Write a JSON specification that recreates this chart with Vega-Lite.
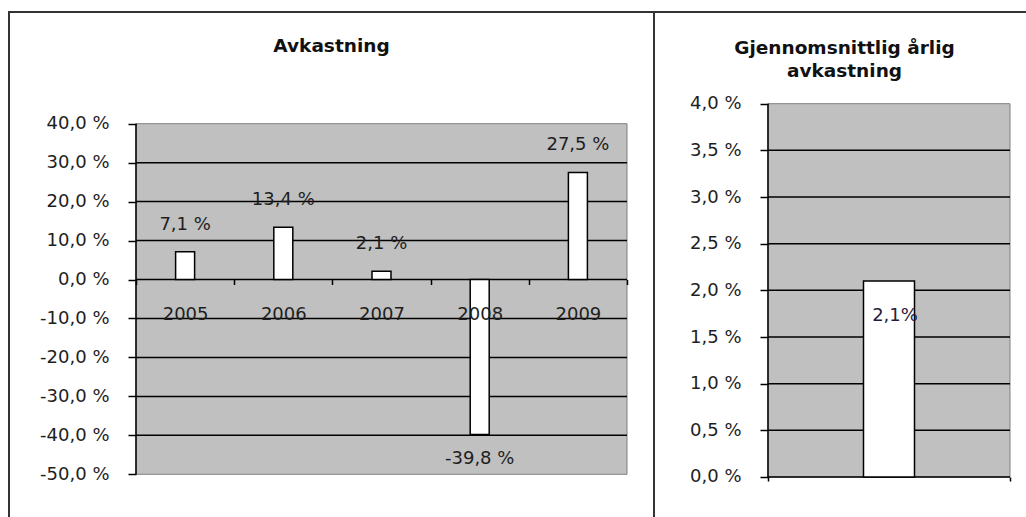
{
  "$schema": "https://vega.github.io/schema/vega-lite/v6.json",
  "background": "white",
  "padding": {"left": 8, "top": 11, "right": 0, "bottom": 0},
  "bounds": "flush",
  "spacing": 0,
  "config": {
    "view": {"stroke": "#333333", "strokeWidth": 2, "fill": "white"},
    "axis": {"labelFont": "DejaVu Sans", "labelFontSize": 18, "labelColor": "#1e1e1e", "tickColor": "#000000", "tickWidth": 1.5, "grid": false, "domain": false, "title": null, "zindex": 1, "labelOverlap": false, "labelFlush": false}
  },
  "hconcat": [
    {
      "width": 645,
      "height": 510,
      "title": {"text": "Avkastning", "font": "DejaVu Sans", "fontSize": 18.5, "fontWeight": "bold", "color": "#111111", "anchor": "middle", "frame": "group", "baseline": "top", "offset": -43.5},
      "data": {"values": [
        {"year": 2005, "v": 7.1},
        {"year": 2006, "v": 13.4},
        {"year": 2007, "v": 2.1},
        {"year": 2008, "v": -39.8},
        {"year": 2009, "v": 27.5}
      ]},
      "layer": [
        {
          "data": {"values": [{"area": "plot"}]},
          "mark": {"type": "rect", "fill": "#c0c0c0", "stroke": "#808080", "strokeWidth": 1},
          "encoding": {
            "x": {"datum": 2004.5, "type": "quantitative", "scale": {"domain": [2003.2067, 2009.7749], "nice": false, "zero": false, "padding": 0},
              "axis": {"title": null, "zindex": 2, "orient": "bottom", "offset": -242.5, "values": [2004.5, 2005.5, 2006.5, 2007.5, 2008.5, 2009.5], "tickSize": 5, "labelOffset": 49.1, "labelPadding": 20.5, "labelAngle": 0, "labelExpr": "datum.value > 2009 ? '' : format(datum.value + 0.5, 'd')"}},
            "x2": {"datum": 2009.5},
            "y": {"datum": -50, "type": "quantitative", "scale": {"domain": [-62.245, 68.673], "nice": false, "zero": false, "padding": 0},
              "axis": {"title": null, "zindex": 2, "orient": "left", "offset": -127, "values": [-50, -40, -30, -20, -10, 0, 10, 20, 30, 40], "tickSize": 8, "labelPadding": 19, "labelExpr": "(datum.value < 0 ? '-' : '') + replace(format(abs(datum.value), '.1f'), '.', ',') + ' %'"}},
            "y2": {"datum": 40}
          }
        },
        {
          "data": {"values": [{"g": -40}, {"g": -30}, {"g": -20}, {"g": -10}, {"g": 0}, {"g": 10}, {"g": 20}, {"g": 30}]},
          "mark": {"type": "rule", "color": "#000000", "strokeWidth": 1.5},
          "encoding": {
            "x": {"datum": 2004.5, "type": "quantitative", "scale": {"domain": [2003.2067, 2009.7749], "nice": false, "zero": false, "padding": 0}},
            "x2": {"datum": 2009.5},
            "y": {"field": "g", "type": "quantitative", "scale": {"domain": [-62.245, 68.673], "nice": false, "zero": false, "padding": 0}}
          }
        },
        {
          "mark": {"type": "bar", "orient": "vertical", "width": 19, "fill": "white", "stroke": "#000000", "strokeWidth": 1.5},
          "encoding": {
            "x": {"field": "year", "type": "quantitative", "scale": {"domain": [2003.2067, 2009.7749], "nice": false, "zero": false, "padding": 0}},
            "y": {"field": "v", "type": "quantitative", "scale": {"domain": [-62.245, 68.673], "nice": false, "zero": false, "padding": 0}},
            "y2": {"datum": 0}
          }
        },
        {
          "data": {"values": [{"area": "plot"}]},
          "mark": {"type": "rule", "color": "#000000", "strokeWidth": 1.5},
          "encoding": {
            "x": {"datum": 2004.5, "type": "quantitative", "scale": {"domain": [2003.2067, 2009.7749], "nice": false, "zero": false, "padding": 0}},
            "y": {"datum": -50, "type": "quantitative", "scale": {"domain": [-62.245, 68.673], "nice": false, "zero": false, "padding": 0}},
            "y2": {"datum": 40}
          }
        },
        {
          "transform": [
            {"filter": "datum.v >= 0"},
            {"calculate": "replace(format(datum.v, '.1f'), '.', ',') + ' %'", "as": "lbl"}
          ],
          "mark": {"type": "text", "font": "DejaVu Sans", "fontSize": 18, "color": "#1e1e1e", "align": "center", "baseline": "alphabetic", "dy": -22},
          "encoding": {
            "x": {"field": "year", "type": "quantitative", "scale": {"domain": [2003.2067, 2009.7749], "nice": false, "zero": false, "padding": 0}},
            "y": {"field": "v", "type": "quantitative", "scale": {"domain": [-62.245, 68.673], "nice": false, "zero": false, "padding": 0}},
            "text": {"field": "lbl"}
          }
        },
        {
          "transform": [
            {"filter": "datum.v < 0"},
            {"calculate": "'-' + replace(format(abs(datum.v), '.1f'), '.', ',') + ' %'", "as": "lbl"}
          ],
          "mark": {"type": "text", "font": "DejaVu Sans", "fontSize": 18, "color": "#1e1e1e", "align": "center", "baseline": "alphabetic", "dy": 29},
          "encoding": {
            "x": {"field": "year", "type": "quantitative", "scale": {"domain": [2003.2067, 2009.7749], "nice": false, "zero": false, "padding": 0}},
            "y": {"field": "v", "type": "quantitative", "scale": {"domain": [-62.245, 68.673], "nice": false, "zero": false, "padding": 0}},
            "text": {"field": "lbl"}
          }
        }
      ]
    },
    {
      "width": 381,
      "height": 510,
      "title": {"text": ["Gjennomsnittlig årlig", "avkastning"], "font": "DejaVu Sans", "fontSize": 18.5, "fontWeight": "bold", "color": "#111111", "anchor": "middle", "frame": "group", "baseline": "top", "lineHeight": 23, "offset": -68},
      "data": {"values": [{"serie": "Gjennomsnittlig årlig avkastning", "v": 2.1}]},
      "layer": [
        {
          "data": {"values": [{"area": "plot"}]},
          "mark": {"type": "rect", "fill": "#c0c0c0", "stroke": "#808080", "strokeWidth": 1},
          "encoding": {
            "x": {"datum": 0, "type": "quantitative", "scale": {"domain": [-0.47107, 1.10331], "nice": false, "zero": false, "padding": 0},
              "axis": {"title": null, "zindex": 2, "orient": "bottom", "offset": -45, "values": [0, 1], "tickSize": 4, "labels": false}},
            "x2": {"datum": 1},
            "y": {"datum": 0, "type": "quantitative", "scale": {"domain": [-0.4822, 4.9826], "nice": false, "zero": false, "padding": 0},
              "axis": {"title": null, "zindex": 2, "orient": "left", "offset": -114, "values": [0, 0.5, 1, 1.5, 2, 2.5, 3, 3.5, 4], "tickSize": 8, "labelPadding": 19, "labelExpr": "replace(format(datum.value, '.1f'), '.', ',') + ' %'"}},
            "y2": {"datum": 4}
          }
        },
        {
          "data": {"values": [{"g": 0}, {"g": 0.5}, {"g": 1}, {"g": 1.5}, {"g": 2}, {"g": 2.5}, {"g": 3}, {"g": 3.5}]},
          "mark": {"type": "rule", "color": "#000000", "strokeWidth": 1.5},
          "encoding": {
            "x": {"datum": 0, "type": "quantitative", "scale": {"domain": [-0.47107, 1.10331], "nice": false, "zero": false, "padding": 0}},
            "x2": {"datum": 1},
            "y": {"field": "g", "type": "quantitative", "scale": {"domain": [-0.4822, 4.9826], "nice": false, "zero": false, "padding": 0}}
          }
        },
        {
          "mark": {"type": "bar", "orient": "vertical", "width": 51, "fill": "white", "stroke": "#000000", "strokeWidth": 1.5},
          "encoding": {
            "x": {"datum": 0.5, "type": "quantitative", "scale": {"domain": [-0.47107, 1.10331], "nice": false, "zero": false, "padding": 0}},
            "y": {"field": "v", "type": "quantitative", "scale": {"domain": [-0.4822, 4.9826], "nice": false, "zero": false, "padding": 0}},
            "y2": {"datum": 0}
          }
        },
        {
          "data": {"values": [{"area": "plot"}]},
          "mark": {"type": "rule", "color": "#000000", "strokeWidth": 1.5},
          "encoding": {
            "x": {"datum": 0, "type": "quantitative", "scale": {"domain": [-0.47107, 1.10331], "nice": false, "zero": false, "padding": 0}},
            "y": {"datum": 0, "type": "quantitative", "scale": {"domain": [-0.4822, 4.9826], "nice": false, "zero": false, "padding": 0}},
            "y2": {"datum": 4}
          }
        },
        {
          "transform": [
            {"calculate": "replace(format(datum.v, '.1f'), '.', ',') + '%'", "as": "lbl"}
          ],
          "mark": {"type": "text", "font": "DejaVu Sans", "fontSize": 18, "color": "#2a1a3a", "align": "center", "baseline": "alphabetic", "dy": 40, "dx": 6},
          "encoding": {
            "x": {"datum": 0.5, "type": "quantitative", "scale": {"domain": [-0.47107, 1.10331], "nice": false, "zero": false, "padding": 0}},
            "y": {"field": "v", "type": "quantitative", "scale": {"domain": [-0.4822, 4.9826], "nice": false, "zero": false, "padding": 0}},
            "text": {"field": "lbl"}
          }
        }
      ]
    }
  ]
}
